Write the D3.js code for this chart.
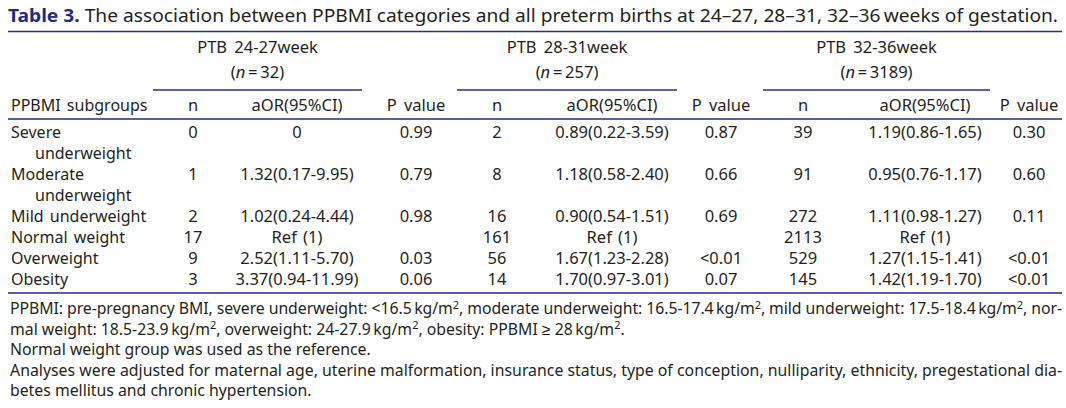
<!DOCTYPE html>
<html><head><meta charset="utf-8">
<script src="https://cdn.jsdelivr.net/npm/d3@7/dist/d3.min.js"></script>
<style>
body{margin:0;background:#fff}
svg text{font-family:"Noto Sans",sans-serif;fill:#231f20}
</style>
</head><body>
<svg id="c" width="1066" height="408"></svg>
<script>
// ---------- data ----------
const tableLabel = "Table 3.";
const tableTitle = "The association between PPBMI categories and all preterm births at 24\u201327, 28\u201331, 32\u201336\u2009weeks of gestation.";
const groups = ["PTB 24-27week", "PTB 28-31week", "PTB 32-36week"];
const groupN = [32, 257, 3189];
const stubHeader = "PPBMI subgroups";
const colHeaders = ["n", "aOR(95%CI)", "P value"];
const subgroups = ["Severe underweight", "Moderate underweight", "Mild underweight", "Normal weight", "Overweight", "Obesity"];
const nValues = [
  [0, 1, 2, 17, 9, 3],
  [2, 8, 16, 161, 56, 14],
  [39, 91, 272, 2113, 529, 145]
];
const aorValues = [
  ["0", "1.32(0.17-9.95)", "1.02(0.24-4.44)", "Ref (1)", "2.52(1.11-5.70)", "3.37(0.94-11.99)"],
  ["0.89(0.22-3.59)", "1.18(0.58-2.40)", "0.90(0.54-1.51)", "Ref (1)", "1.67(1.23-2.28)", "1.70(0.97-3.01)"],
  ["1.19(0.86-1.65)", "0.95(0.76-1.17)", "1.11(0.98-1.27)", "Ref (1)", "1.27(1.15-1.41)", "1.42(1.19-1.70)"]
];
const pValues = [
  ["0.99", "0.79", "0.98", "", "0.03", "0.06"],
  ["0.87", "0.66", "0.69", "", "<0.01", "0.07"],
  ["0.30", "0.60", "0.11", "", "<0.01", "<0.01"]
];
// footnote lines: arrays of [text, isSuperscript]
const footnotes = [
  [["PPBMI: pre-pregnancy BMI, severe underweight: <16.5\u2009kg/m"],["2",1],[", moderate underweight: 16.5-17.4\u2009kg/m"],["2",1],[", mild underweight: 17.5-18.4\u2009kg/m"],["2",1],[", nor-"]],
  [["mal weight: 18.5-23.9\u2009kg/m"],["2",1],[", overweight: 24-27.9\u2009kg/m"],["2",1],[", obesity: PPBMI \u2265 28\u2009kg/m"],["2",1],["."]],
  [["Normal weight group was used as the reference."]],
  [["Analyses were adjusted for maternal age, uterine malformation, insurance status, type of conception, nulliparity, ethnicity, pregestational dia-"]],
  [["betes mellitus and chronic hypertension."]]
];
const justifiedFootnotes = [0, 3];

// ---------- layout ----------
const svg = d3.select("#c");
const left = 8, right = 1062;
const ruleDark = "#27337f", ruleMid = "#5a5ea4";
const fs = 16.5, fsStub = 16, fsFoot = 15.8;

const colKeys = [];
groups.forEach((g, gi) => colHeaders.forEach((h, hi) => colKeys.push(gi + "_" + hi)));
const colX = d3.scaleOrdinal().domain(colKeys)
  .range([193, 297, 416, 497, 612, 721, 803, 925, 1029]);
const spanX0 = gi => colX(gi + "_0") - 40;
const spanX1 = gi => colX(gi + "_1") + 65;

// title
const t = svg.append("text").attr("x", left).attr("y", 22).style("font-size", "18px");
t.append("tspan").text(tableLabel).style("font-weight", "bold").style("fill", "#1f2b86");
t.append("tspan").text(" " + tableTitle);
t.attr("textLength", 1050).attr("lengthAdjust", "spacingAndGlyphs");

svg.append("line").attr("x1", left).attr("x2", right).attr("y1", 31.5).attr("y2", 31.5)
  .attr("stroke", ruleDark).attr("stroke-width", 1.4);

// group headers
const gh = svg.selectAll("g.gh").data(groups).join("g").attr("class", "gh");
gh.append("text").attr("text-anchor", "middle").style("font-size", fs + "px").style("word-spacing", "3px")
  .attr("x", (d, i) => (spanX0(i) + spanX1(i)) / 2).attr("y", 53).text(d => d);
gh.each(function(d, i) {
  const tx = d3.select(this).append("text").attr("text-anchor", "middle").style("font-size", fs + "px")
    .attr("x", (spanX0(i) + spanX1(i)) / 2).attr("y", 78);
  tx.append("tspan").text("(");
  tx.append("tspan").text("n").style("font-style", "italic");
  tx.append("tspan").text("\u2009=\u2009" + groupN[i] + ")");
});
gh.append("line").attr("x1", (d, i) => spanX0(i)).attr("x2", (d, i) => spanX1(i))
  .attr("y1", 90).attr("y2", 90).attr("stroke", ruleDark).attr("stroke-width", 1.3);

// column headers
svg.append("text").attr("x", 11).attr("y", 111).style("font-size", fsStub + "px").style("word-spacing", "2px").text(stubHeader);
svg.selectAll("text.ch").data(colKeys).join("text").attr("class", "ch")
  .attr("text-anchor", "middle").style("font-size", fs + "px").style("word-spacing", "3px")
  .attr("x", d => colX(d)).attr("y", 111)
  .text(d => colHeaders[+d.split("_")[1]]);

svg.append("line").attr("x1", left).attr("x2", right).attr("y1", 119).attr("y2", 119)
  .attr("stroke", ruleMid).attr("stroke-width", 2);

// body rows: wrap labels
const measure = svg.append("text").style("font-size", fsStub + "px").attr("opacity", 0);
const wrapLimit = 142;
const labelLines = subgroups.map(s => {
  measure.text(s);
  if (measure.node().getComputedTextLength() <= wrapLimit) return [s];
  const k = s.indexOf(" ");
  return [s.slice(0, k), s.slice(k + 1)];
});
measure.remove();
let acc = 0;
const rowStart = labelLines.map(l => { const r = acc; acc += l.length; return r; });
const yLine = d3.scaleLinear().domain([0, 1]).range([138, 159]);

const rows = svg.selectAll("g.row").data(subgroups).join("g").attr("class", "row");
rows.each(function(d, ri) {
  const g = d3.select(this);
  labelLines[ri].forEach((ln, li) => {
    g.append("text").attr("x", li === 0 ? 11 : 35).attr("y", yLine(rowStart[ri] + li))
      .style("font-size", fsStub + "px").style("word-spacing", "2px").text(ln);
  });
  groups.forEach((gname, gi) => {
    const vals = [nValues[gi][ri], aorValues[gi][ri], pValues[gi][ri]];
    vals.forEach((v, hi) => {
      g.append("text").attr("text-anchor", "middle").style("font-size", fs + "px").style("word-spacing", "2px")
        .attr("x", colX(gi + "_" + hi)).attr("y", yLine(rowStart[ri])).text(v);
    });
  });
});

const bottomY = yLine(acc - 1) + 8;
svg.append("line").attr("x1", left).attr("x2", right).attr("y1", bottomY).attr("y2", bottomY)
  .attr("stroke", ruleMid).attr("stroke-width", 2);

// footnotes
const yFoot = d3.scaleLinear().domain([0, 1]).range([314, 334.5]);
footnotes.forEach((parts, i) => {
  const tx = svg.append("text").attr("x", 10).attr("y", yFoot(i)).style("font-size", fsFoot + "px");
  let prevSup = false;
  parts.forEach(p => {
    if (p[1]) {
      tx.append("tspan").text(p[0]).attr("dy", -5.5).style("font-size", "11px");
      prevSup = true;
    } else {
      const ts = tx.append("tspan").text(p[0]);
      if (prevSup) ts.attr("dy", 5.5);
      prevSup = false;
    }
  });
  if (justifiedFootnotes.includes(i)) tx.attr("textLength", 1052).attr("lengthAdjust", "spacing");
});
</script>
</body></html>
